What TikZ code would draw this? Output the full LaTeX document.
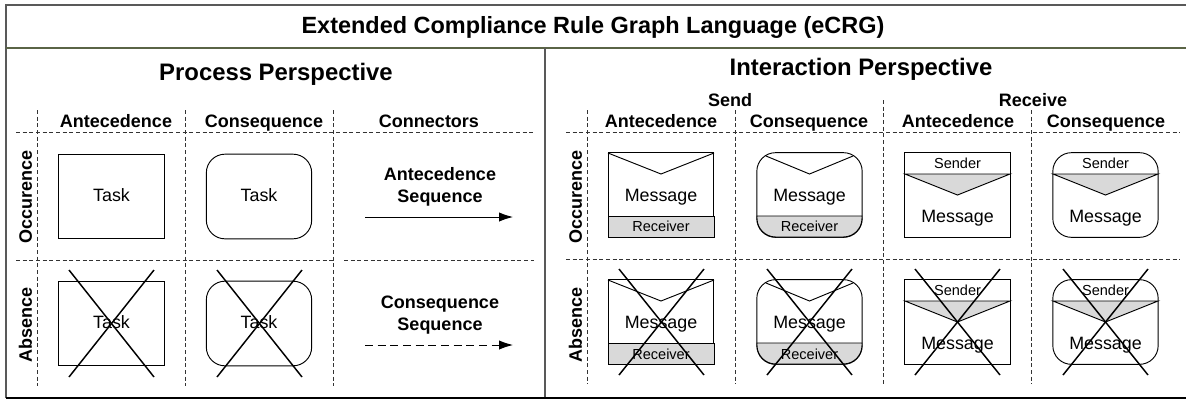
\documentclass[tikz,border=0pt]{standalone}
\usepackage{fontspec}
\setmainfont{Liberation Sans}
\usepackage{tikz}
\usetikzlibrary{arrows.meta}
\definecolor{titlerule}{RGB}{90,100,70}

\begin{document}
\begin{tikzpicture}[
  x=0.75pt, y=-0.75pt,
  every node/.style={inner sep=1pt},
  frameline/.style={draw=black!65, line width=0.9pt},
  gridline/.style={black!80, densely dashed, line width=0.6pt},
  crossline/.style={black, line width=1.1pt},
  seqline/.style={-{Latex[length=10.5pt,width=7pt]}, line width=0.7pt},
  taskbox/.style={draw, line width=0.7pt, minimum width=79pt, minimum height=63.5pt, outer sep=0pt},
  roundbox/.style={taskbox, rounded corners=14pt},
  maintitle/.style={font=\bfseries\fontsize{17.6}{20}\selectfont, text height=1.5ex, text depth=.25ex, yshift=-2.5pt},
  subtitle/.style={font=\bfseries\fontsize{17.9}{20}\selectfont, text height=1.5ex, text depth=.25ex, yshift=-3pt},
  colhead/.style={font=\bfseries\fontsize{13.5}{16.5}\selectfont, text height=1.5ex, text depth=.25ex, yshift=-1.8pt},
  rowhead/.style={font=\bfseries\fontsize{13.5}{16.5}\selectfont, text height=1.5ex, text depth=.25ex, rotate=90},
  seqtext/.style={font=\bfseries\fontsize{13.5}{16.5}\selectfont, align=center},
  bodytext/.style={font=\fontsize{13.4}{16}\selectfont, text height=1.5ex, text depth=.25ex, yshift=-1.5pt},
  smalltext/.style={font=\fontsize{10.9}{13}\selectfont, text height=1.5ex, text depth=.25ex, yshift=-0.8pt},
  band/.style={draw, fill=black!15, line width=0.7pt}
]
\useasboundingbox (0,0) rectangle (1186,401);
\path[fill=white] (0,0) rectangle (1186,401);

% frame
\draw[frameline] (1186,5) -- (6,5) -- (6,398);
\draw[black, line width=0.9pt] (6,398) -- (1186,398);
\draw[titlerule, line width=0.9pt] (6,48) -- (1186,48);
\draw[frameline] (545,48) -- (545,397);
\node[maintitle] (title) at (593,26) {Extended Compliance Rule Graph Language (eCRG)};
\node[subtitle] (process) at (276,72) {Process Perspective};
\node[subtitle] (interaction) at (861,67) {Interaction Perspective};

% process grid
\draw[gridline] (37,110) -- (37,386);
\draw[gridline] (185,110) -- (185,386);
\draw[gridline] (333,110) -- (333,386);
\draw[gridline] (16,132) -- (534,132);
\draw[gridline] (16,260) -- (333,260);
\draw[gridline] (344,260) -- (534,260);
\node[colhead] (pAnte) at (116,121) {Antecedence};
\node[colhead] (pCons) at (264,121) {Consequence};
\node[colhead] (pConn) at (429,121) {Connectors};
\node[rowhead] (pOcc) at (27.5,197) {Occurence};
\node[rowhead] (pAbs) at (27.5,325) {Absence};

% tasks
\node[taskbox] (taskA) at (111.5,196.5) {};
\node[bodytext] at (111.5,195) {Task};
\node[roundbox] (taskB) at (259,196.5) {};
\node[bodytext] at (259,195) {Task};
\node[taskbox] (taskC) at (111.5,323.5) {};
\node[bodytext] at (111.5,322) {Task};
\node[roundbox] (taskD) at (259,323.5) {};
\node[bodytext] at (259,322) {Task};
\draw[crossline] (69,270) -- (154,377);
\draw[crossline] (154,270) -- (69,377);
\draw[crossline] (217,270) -- (302,377);
\draw[crossline] (302,270) -- (217,377);

% connectors
\node[seqtext] (seqA) at (440,187) {Antecedence\\Sequence};
\node[seqtext] (seqB) at (440,315) {Consequence\\Sequence};
\coordinate (seqAfrom) at (365,217);
\coordinate (seqAto) at (513,217);
\coordinate (seqBfrom) at (365,345);
\coordinate (seqBto) at (513,345);
\draw[seqline] (seqAfrom) -- (seqAto);
\draw[seqline, dash pattern=on 6pt off 3.5pt] (seqBfrom) -- (seqBto);

% interaction grid
\draw[gridline] (587,110) -- (587,384);
\draw[gridline] (735,110) -- (735,384);
\draw[gridline] (883,100) -- (883,386);
\draw[gridline] (1031,110) -- (1031,384);
\draw[gridline] (566,132) -- (1180,132);
\draw[gridline] (566,259) -- (1180,259);
\node[colhead] (sendHead) at (730,100) {Send};
\node[colhead] (recvHead) at (1033,100) {Receive};
\node[colhead] (sAnte) at (661,121) {Antecedence};
\node[colhead] (sCons) at (809,121) {Consequence};
\node[colhead] (rAnte) at (958,121) {Antecedence};
\node[colhead] (rCons) at (1106,121) {Consequence};
\node[rowhead] (iOcc) at (577.5,197) {Occurence};
\node[rowhead] (iAbs) at (577.5,325) {Absence};

% send, occurence
\node[taskbox] (sendA) at (661,195) {};
\draw[band] (608,216) rectangle (714,237);
\draw[line width=0.7pt] (608,153) -- (661,174) -- (714,153);
\node[bodytext] at (661,195) {Message};
\node[smalltext] at (661,226) {Receiver};
\node[roundbox] (sendB) at (809.5,195) {};
\draw[band] (757,216) -- (862,216) [rounded corners=14pt] -- (862,237) -- (757,237) [sharp corners] -- cycle;
\draw[line width=0.7pt] (766,156) -- (809.5,174) -- (853,156);
\node[bodytext] at (809.5,195) {Message};
\node[smalltext] at (809.5,226) {Receiver};

% send, absence
\node[taskbox] (sendC) at (661,322) {};
\draw[band] (608,343) rectangle (714,364);
\draw[line width=0.7pt] (608,280) -- (661,301) -- (714,280);
\node[bodytext] at (661,322) {Message};
\node[smalltext] at (661,354) {Receiver};
\node[roundbox] (sendD) at (809.5,322) {};
\draw[band] (757,343) -- (862,343) [rounded corners=14pt] -- (862,364) -- (757,364) [sharp corners] -- cycle;
\draw[line width=0.7pt] (766,283) -- (809.5,301) -- (853,283);
\node[bodytext] at (809.5,322) {Message};
\node[smalltext] at (809.5,354) {Receiver};
\draw[crossline] (619,269) -- (704,375);
\draw[crossline] (704,269) -- (619,375);
\draw[crossline] (767,269) -- (852,375);
\draw[crossline] (852,269) -- (767,375);

% receive, occurence
\node[taskbox] (recvA) at (957.5,195) {};
\draw[band] (905,174) -- (1010,174) -- (957.5,195) -- cycle;
\node[smalltext] at (957.5,163) {Sender};
\node[bodytext] at (957.5,216) {Message};
\node[roundbox] (recvB) at (1105.5,195) {};
\draw[band] (1053,174) -- (1158,174) -- (1105.5,195) -- cycle;
\node[smalltext] at (1105.5,163) {Sender};
\node[bodytext] at (1105.5,216) {Message};

% receive, absence
\node[taskbox] (recvC) at (957.5,322) {};
\draw[band] (905,301) -- (1010,301) -- (957.5,322) -- cycle;
\node[smalltext] at (957.5,290) {Sender};
\node[bodytext] at (957.5,343) {Message};
\node[roundbox] (recvD) at (1105.5,322) {};
\draw[band] (1053,301) -- (1158,301) -- (1105.5,322) -- cycle;
\node[smalltext] at (1105.5,290) {Sender};
\node[bodytext] at (1105.5,343) {Message};
\draw[crossline] (915,269) -- (1000,375);
\draw[crossline] (1000,269) -- (915,375);
\draw[crossline] (1063,269) -- (1148,375);
\draw[crossline] (1148,269) -- (1063,375);
\end{tikzpicture}
\end{document}
